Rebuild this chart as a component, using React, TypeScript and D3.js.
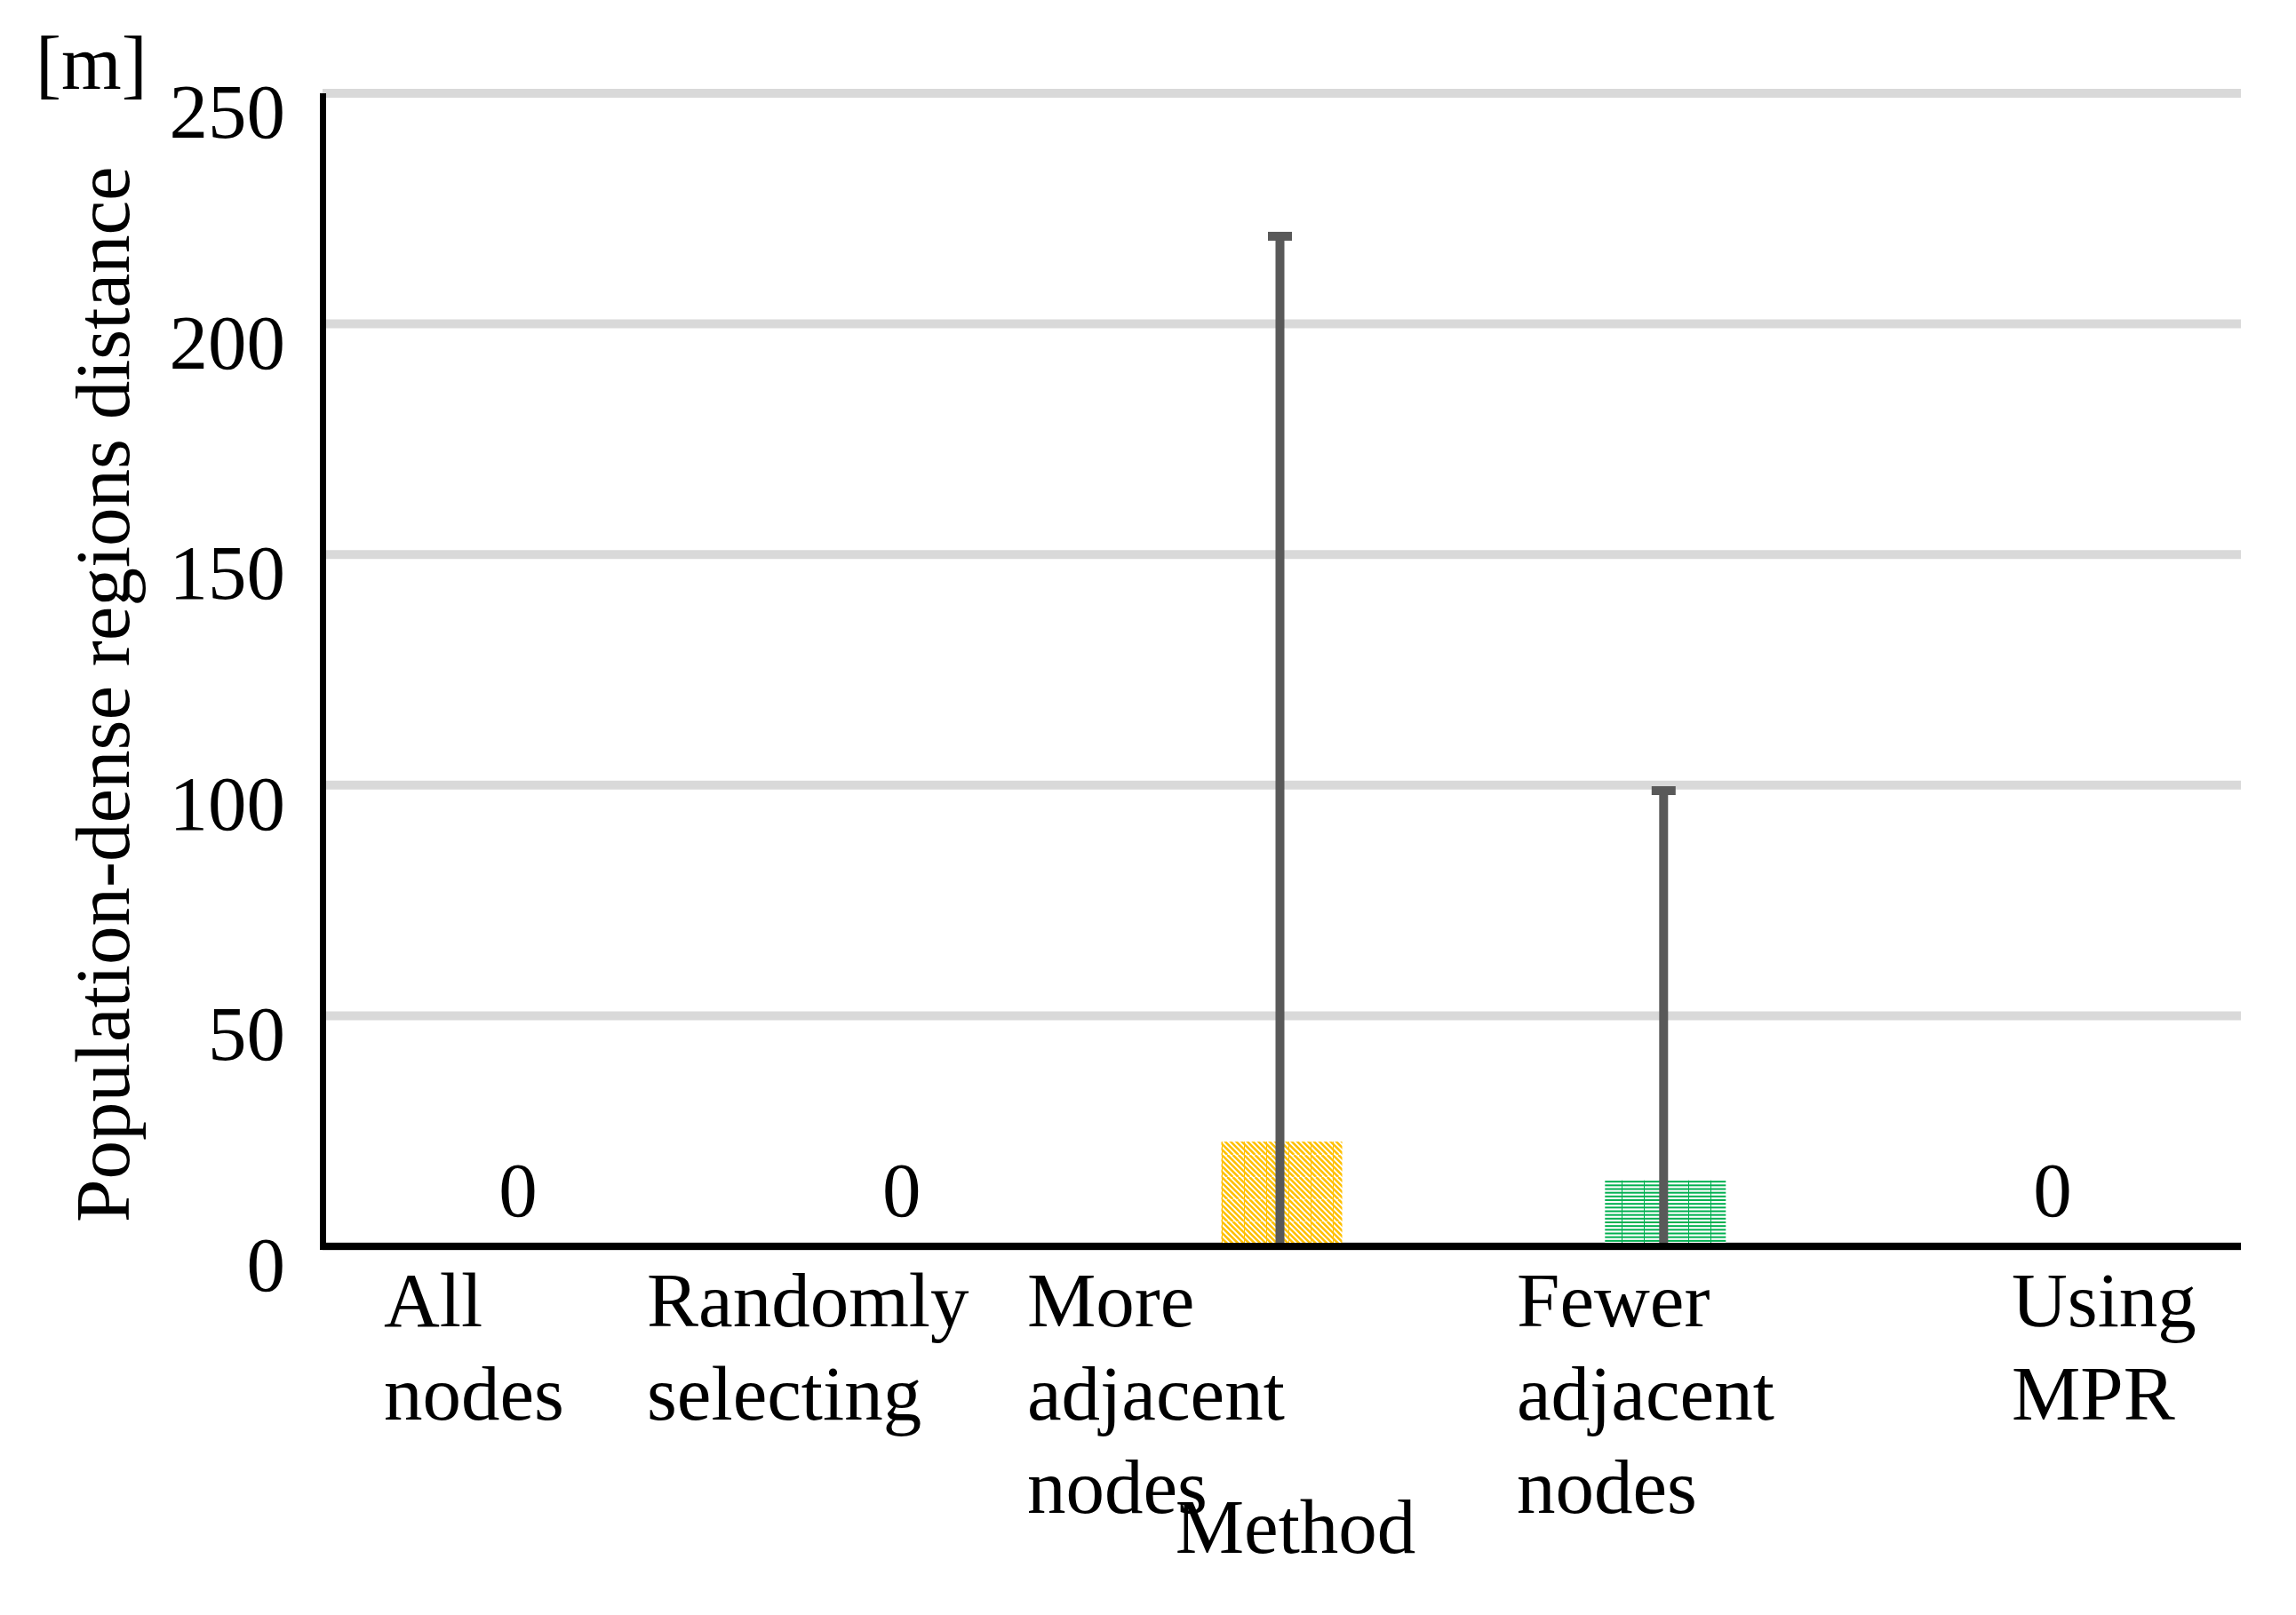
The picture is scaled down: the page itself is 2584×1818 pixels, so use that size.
import React from "react";
import * as d3 from "d3";

const categories = [
  ["All", "nodes"],
  ["Randomly", "selecting"],
  ["More", "adjacent", "nodes"],
  ["Fewer", "adjacent", "nodes"],
  ["Using", "MPR"],
];
const categoryKeys = ["All nodes", "Randomly selecting", "More adjacent nodes", "Fewer adjacent nodes", "Using MPR"];
const meanValues = [0, 0, 22.7, 14.3, 0];
const errorValues = [0, 0, 196.3, 84.5, 0];
const yTicks = [0, 50, 100, 150, 200, 250];
const barPatterns = ["none", "none", "diag", "horiz", "none"];

const W = 2584;
const H = 1818;
const FONT = "'Liberation Serif', 'Times New Roman', serif";
const FS = 87;
// left-aligned start of each category label block (layout)
const LABEL_X = [432, 728, 1156, 1707, 2264];

export default function App() {
  const x = d3.scaleBand().domain(categoryKeys).range([363, 2522]).paddingInner(0).paddingOuter(0);
  const y = d3.scaleLinear().domain([0, 250]).range([1403, 105]);
  const barW = x.bandwidth() * 0.315;

  return (
    <svg width={W} height={H} style={{ position: "absolute", left: 0, top: 0, background: "#fff" }}>
      <defs>
        <pattern id="diag" patternUnits="userSpaceOnUse" width={25} height={25}>
          <rect width={25} height={25} fill="#fff" />
          {[-25, -18.75, -12.5, -6.25, 0, 6.25, 12.5, 18.75, 25].map((o, i) => (
            <line key={i} x1={o} y1={0} x2={o + 25} y2={25} stroke="#FFC000" strokeWidth={2.6} />
          ))}
          <line x1={0.5} y1={0} x2={0.5} y2={25} stroke="#FFC000" strokeWidth={1} />
        </pattern>
        <pattern id="horiz" patternUnits="userSpaceOnUse" width={25} height={25}>
          <rect width={25} height={25} fill="#fff" />
          {[0, 1, 2, 3, 4, 5].map((i) => (
            <rect key={i} x={0} y={i * (25 / 6)} width={25} height={2} fill="#00B050" />
          ))}
          <line x1={0.5} y1={0} x2={0.5} y2={25} stroke="#00B050" strokeWidth={1} />
        </pattern>
      </defs>

      {/* gridlines */}
      {yTicks.map((t) => (
        <line key={"g" + t} x1={363} x2={2522} y1={y(t)} y2={y(t)} stroke="#d9d9d9" strokeWidth={10} />
      ))}

      {/* bars */}
      {categoryKeys.map((c, i) =>
        meanValues[i] > 0 ? (
          <rect
            key={"b" + c}
            x={(x(c) as number) + x.bandwidth() / 2 - barW / 2}
            y={y(meanValues[i])}
            width={barW}
            height={y(0) - y(meanValues[i])}
            fill={`url(#${barPatterns[i]})`}
          />
        ) : null
      )}

      {/* error bars */}
      {categoryKeys.map((c, i) => {
        if (errorValues[i] <= 0) return null;
        const cx = (x(c) as number) + x.bandwidth() / 2 - 2;
        const top = y(meanValues[i] + errorValues[i]);
        const bot = y(Math.max(0, meanValues[i] - errorValues[i]));
        return (
          <g key={"e" + c}>
            <line x1={cx} x2={cx} y1={top} y2={bot - 4} stroke="#595959" strokeWidth={10} />
            <line x1={cx - 13.5} x2={cx + 13.5} y1={top} y2={top} stroke="#595959" strokeWidth={10} />
          </g>
        );
      })}

      {/* data labels for zero bars */}
      {categoryKeys.map((c, i) =>
        meanValues[i] === 0 ? (
          <text
            key={"d" + c}
            x={(x(c) as number) + x.bandwidth() / 2 + 4}
            y={1369}
            textAnchor="middle"
            fontFamily={FONT}
            fontSize={FS}
            fill="#000"
          >
            {meanValues[i]}
          </text>
        ) : null
      )}

      {/* axes */}
      <line x1={363.5} x2={363.5} y1={105} y2={1407} stroke="#000" strokeWidth={7} />
      <line x1={360} x2={2522} y1={1403} y2={1403} stroke="#000" strokeWidth={8} />

      {/* y tick labels */}
      {yTicks.map((t) => (
        <text key={"t" + t} x={321} y={y(t) + 50} textAnchor="end" fontFamily={FONT} fontSize={FS} fill="#000">
          {t}
        </text>
      ))}

      {/* category labels */}
      {categories.map((lines, i) => (
        <text key={"c" + i} fontFamily={FONT} fontSize={FS} fill="#000">
          {lines.map((ln, j) => (
            <tspan key={j} x={LABEL_X[i]} y={1493 + j * 105}>
              {ln}
            </tspan>
          ))}
        </text>
      ))}

      {/* axis titles */}
      <text x={1458} y={1748} textAnchor="middle" fontFamily={FONT} fontSize={FS} fill="#000">
        Method
      </text>
      <text transform="translate(145,1376) rotate(-90)" textAnchor="start" fontFamily={FONT} fontSize={FS} fill="#000">
        Population-dense regions distance
      </text>
      <text x={40} y={100} fontFamily={FONT} fontSize={FS} fill="#000">
        [m]
      </text>
    </svg>
  );
}
